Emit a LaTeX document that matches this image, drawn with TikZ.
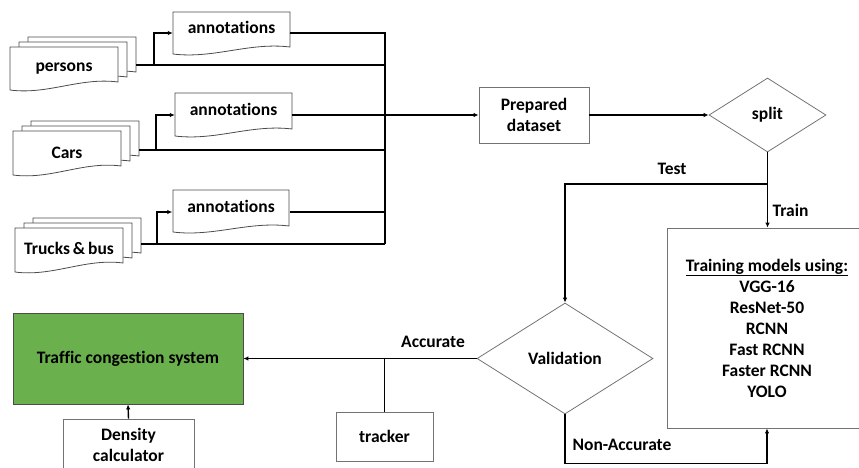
\documentclass[tikz,border=0pt]{standalone}
\usepackage{fontspec}
\setmainfont{Carlito}[Ligatures=NoCommon]
\usetikzlibrary{arrows.meta,shapes.geometric}
\definecolor{tcsgreen}{HTML}{6AB04C}
\newcommand\docshape[5]{% x1,y1,x2,yb,d
  \filldraw[docline] (#1,#2) -- (#3,#2) -- (#3,{#4-#5})
    .. controls ({#3-0.35*(#3-#1)},{#4-#5-5}) and ({#1+0.35*(#3-#1)},{#4+5}) .. (#1,#4) -- cycle;}
\begin{document}
\begin{tikzpicture}[x=1pt,y=-1pt,
  font=\bfseries\fontsize{17.5}{21}\selectfont,
  docline/.style={draw=black!70,fill=white,line width=0.8pt},
  boxline/.style={draw=black!55,line width=0.8pt},
  conn/.style={draw=black,line width=1.4pt},
  arr/.style={conn,-{Latex[length=5pt,width=4.5pt]}},
  txt/.style={inner sep=0pt,align=center},
  anntxt/.style={inner sep=0pt,minimum width=117pt,text height=12pt,text depth=12pt},
  lbl/.style={inner sep=0pt}]
\useasboundingbox (0,0) rectangle (859,467);
% document stacks
\docshape{28}{37}{136}{80}{8}
\docshape{19}{42}{127}{85}{8}
\docshape{10}{47}{118}{90}{8}
\docshape{31}{121}{139}{165}{9}
\docshape{22}{126}{130}{170}{9}
\docshape{13}{131}{121}{175}{9}
\docshape{33}{218}{141}{262}{9}
\docshape{24}{223}{132}{267}{9}
\docshape{15}{228}{123}{272}{9}
\node[lbl] (pers) at (64,69) {persons};
\node[lbl] (cars) at (67,153) {Cars};
\node[lbl] (trucks) at (69,248) {Trucks\,\&\,bus};
% annotation docs
\docshape{173}{12}{290}{54}{7}
\docshape{175}{93}{292}{136}{7}
\docshape{173}{190}{289}{232}{6}
\node[anntxt] (ann1) at (231.5,33) {annotations};
\node[anntxt] (ann2) at (233.5,115) {annotations};
\node[anntxt] (ann3) at (231,212) {annotations};
% coordinates
\coordinate (persR) at (136,65);
\coordinate (persB) at (154,65);
\coordinate (carsR) at (139,150);
\coordinate (carsB) at (156,150);
\coordinate (trkR) at (141,244);
\coordinate (trkB) at (157,244);
\coordinate (busT) at (385,33);
\coordinate (busB) at (385,244);
% main nodes
\node[boxline,txt,minimum width=110pt,minimum height=56pt] (prep) at (534,115) {Prepared\\dataset};
\node[boxline,diamond,inner sep=0pt,minimum width=117pt,minimum height=74pt] (split) at (767.5,115) {split};
\node[boxline,txt,minimum width=200pt,minimum height=200pt] (train) at (767,328)
  {\underline{Training models using:}\\VGG-16\\ResNet-50\\RCNN\\Fast RCNN\\Faster RCNN\\YOLO};
\node[boxline,diamond,inner sep=0pt,minimum width=176pt,minimum height=111pt] (valid) at (565,358.5) {Validation};
\node[draw=black!70,line width=0.8pt,fill=tcsgreen,txt,minimum width=230pt,minimum height=91pt] (tcs) at (128,358.5) {Traffic congestion system};
\node[boxline,txt,minimum width=97pt,minimum height=49pt] (tracker) at (384.5,436.5) {tracker};
\node[boxline,txt,minimum width=131pt,minimum height=51pt] (dens) at (128.5,444.5) {Density\\calculator};
% connectors left
\draw[conn] (persR) -- (persR -| busT);
\draw[arr] (persB) |- (ann1.west);
\draw[conn] (carsR) -- (carsR -| busT);
\draw[arr] (carsB) |- (ann2.west);
\draw[conn] (trkR) -- (busB);
\draw[arr] (trkB) |- (ann3.west);
\draw[conn] (ann1.east) -- (busT) -- (busB);
\draw[conn] (ann3.east) -- (ann3.east -| busT);
\draw[arr] (ann2.east) -- (prep.west);
\draw[arr] (prep.east) -- (split.west);
% split
\coordinate (jt) at (767.5,184);
\draw[conn] (split.south) -- (jt);
\draw[arr] (jt) -- (jt |- train.north);
\draw[arr] (jt) -| (valid.north);
\node[lbl] at (672,169) {Test};
\node[lbl] at (790.5,210) {Train};
% validation
\draw[arr] (valid.south) -- ++(0,49) -| (train.south);
\node[lbl] at (622,445) {Non-Accurate};
\draw[arr] (valid.west) -- (tcs.east);
\node[lbl] at (433,342) {Accurate};
\draw[conn] (tracker.north) -- (tracker.north |- valid.west);
\draw[arr] (dens.north) -- (tcs.south);
\end{tikzpicture}
\end{document}
